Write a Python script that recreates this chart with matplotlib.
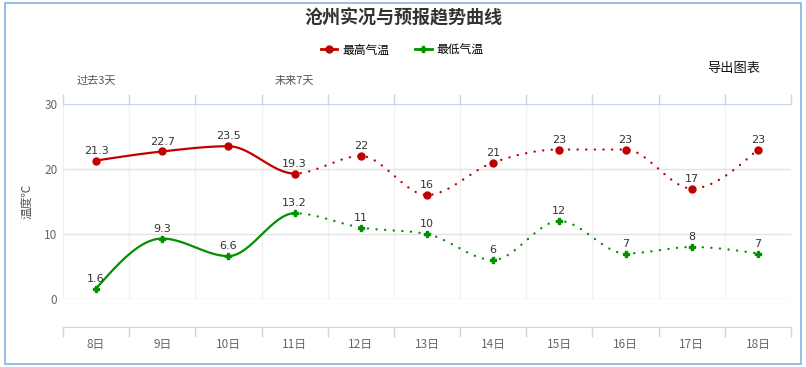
import numpy as np
import matplotlib.pyplot as plt
from matplotlib.lines import Line2D
from matplotlib.patches import Rectangle
import matplotlib.transforms as mtransforms

plt.rcParams['font.family'] = ['Noto Sans CJK SC', 'DejaVu Sans']

#%% Data

days = ['8日', '9日', '10日', '11日', '12日', '13日', '14日', '15日', '16日', '17日', '18日']
t_high = [21.3, 22.7, 23.5, 19.3, 22, 16, 21, 23, 23, 17, 23]
t_low = [1.6, 9.3, 6.6, 13.2, 11, 10, 6, 12, 7, 8, 7]
n_past = 4  # 8-11日 are observed, the rest is forecast

red = '#c00000'
green = '#009000'

#%% Smooth curve (monotone cubic, like d3 curveMonotoneX)

def monotone(y, steps=30):
    y = np.asarray(y, dtype=float)
    n = len(y)
    s = np.diff(y)
    m = np.zeros(n)
    for i in range(1, n - 1):
        s0, s1 = s[i - 1], s[i]
        p = (s0 + s1) / 2
        m[i] = (np.sign(s0) + np.sign(s1)) * min(abs(s0), abs(s1), 0.5 * abs(p))
    m[0] = (3 * s[0] - m[1]) / 2
    m[-1] = (3 * s[-1] - m[-2]) / 2
    xs, ys = [], []
    t = np.linspace(0, 1, steps, endpoint=False)
    for i in range(n - 1):
        h00 = 2 * t**3 - 3 * t**2 + 1
        h10 = t**3 - 2 * t**2 + t
        h01 = -2 * t**3 + 3 * t**2
        h11 = t**3 - t**2
        xs.append(i + t)
        ys.append(h00 * y[i] + h10 * m[i] + h01 * y[i + 1] + h11 * m[i + 1])
    xs.append([n - 1])
    ys.append([y[-1]])
    return np.concatenate(xs), np.concatenate(ys)

#%% Figure

fig = plt.figure(figsize=(8.06, 3.67), dpi=100)
fig.patches.append(Rectangle((5 / 806, 3 / 367), 796 / 806, 361 / 367, transform=fig.transFigure,
                             fill=False, edgecolor='#86b3e3', linewidth=1.2))

ax = fig.add_axes([63 / 806, 1 - 299 / 367, 728 / 806, 195 / 367])
x = np.arange(len(days))

for vals, col, mk, ms in [(t_high, red, 'o', 5), (t_low, green, 'P', 4.5)]:
    cx, cy = monotone(vals)
    past = cx <= n_past - 1
    ax.plot(cx[past], cy[past], color=col, lw=1.6, solid_capstyle='round')
    ax.plot(cx[~past], cy[~past], color=col, lw=1.7, linestyle=(2, (0.05, 3.6)), dash_capstyle='round')
    ax.plot(x, vals, linestyle='none', marker=mk, color=col, markersize=ms, zorder=5)
    for xi, v in zip(x, vals):
        ax.annotate('{:g}'.format(v), (xi, v), xytext=(0, 3.5), textcoords='offset points',
                    ha='center', va='bottom', fontsize=8, family='DejaVu Sans', color='#333333', zorder=6)

ax.set_xlim(-0.5, len(days) - 0.5)
ax.set_ylim(0, 30)
ax.set_yticks([0, 10, 20, 30])
ax.set_xticks(x)
ax.set_xticklabels(days)
ax.set_xticks(np.arange(-0.5, len(days)), minor=True)

ax.tick_params(axis='x', which='major', length=0, pad=8, labelsize=8.5, labelcolor='#666666')
ax.tick_params(axis='x', which='minor', length=7, width=1, color='#c8d6ea', top=True, bottom=True)
ax.tick_params(axis='y', length=0, pad=4, labelsize=8.5, labelcolor='#666666')

ax.grid(True, axis='y', color='#e3e3e3', lw=1)
ax.grid(True, axis='x', which='minor', color='#f0f0f0', lw=1)
ax.spines['left'].set_visible(False)
ax.spines['right'].set_visible(False)
ax.spines['top'].set_color('#c8d6ea')
ax.spines['bottom'].set_color('#c8d6ea')
ax.spines['bottom'].set_position(('outward', 20))
ax.set_ylabel('温度℃', fontsize=8.5, color='#555555', labelpad=8)

# day-range captions above the plot
trans = mtransforms.blended_transform_factory(ax.transData, fig.transFigure)
ax.text(0, 1 - 81 / 367, '过去3天', transform=trans, ha='center', va='center', fontsize=8, color='#555555')
ax.text(n_past - 1, 1 - 81 / 367, '未来7天', transform=trans, ha='center', va='center', fontsize=8, color='#555555')

fig.text(0.5, 1 - 18 / 367, '沧州实况与预报趋势曲线', ha='center', va='center', fontsize=13,
         fontweight='bold', color='#333333')
fig.text(734 / 806, 1 - 68 / 367, '导出图表', ha='center', va='center', fontsize=9.5, color='#111111')

handles = [Line2D([], [], color=red, lw=2, marker='o', markersize=5),
           Line2D([], [], color=green, lw=2, marker='P', markersize=5)]
fig.legend(handles, ['最高气温', '最低气温'], loc='center', bbox_to_anchor=(402 / 806, 1 - 50 / 367),
           ncol=2, frameon=False, fontsize=8.5, handlelength=1.4, handletextpad=0.4, columnspacing=2.2)

fig.savefig('out.png', dpi=100)
